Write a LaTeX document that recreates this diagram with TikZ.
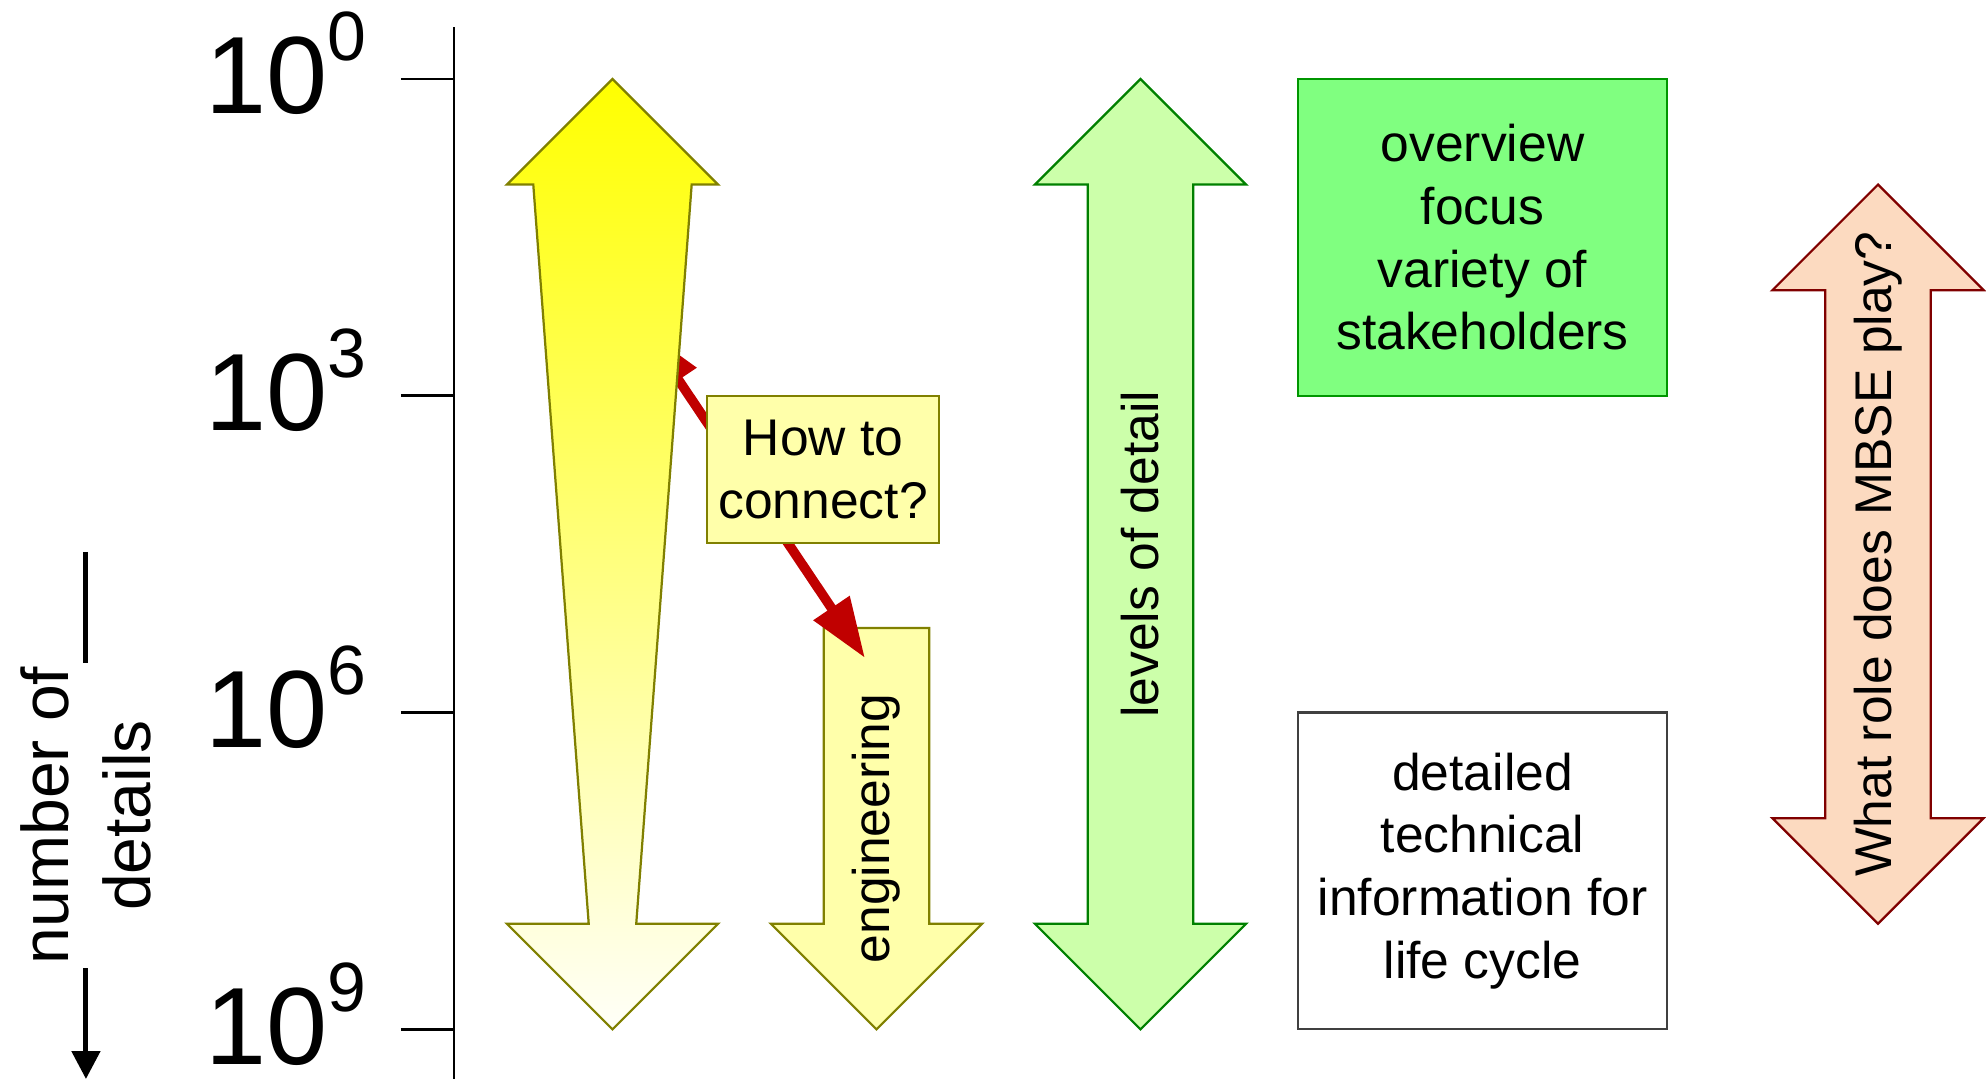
\documentclass[tikz,border=0pt]{standalone}
\usepackage{fontspec}
\setmainfont{Liberation Sans}
\usetikzlibrary{arrows.meta}
\definecolor{olivedge}{RGB}{128,128,0}
\definecolor{paleyellow}{RGB}{255,255,170}
\definecolor{lodgreen}{RGB}{204,255,170}
\definecolor{darkgreen}{RGB}{0,128,0}
\definecolor{boxgreen}{RGB}{128,255,128}
\definecolor{boxgreenedge}{RGB}{0,150,0}
\definecolor{peach}{RGB}{252,218,192}
\definecolor{maroonedge}{RGB}{128,0,0}
\definecolor{linkred}{RGB}{192,0,0}
\definecolor{boxgray}{RGB}{64,64,64}
\definecolor{fadeyellow}{RGB}{255,255,248}

\begin{document}
\begin{tikzpicture}[
    txt/.style={font=\fontsize{13.9}{16.9}\selectfont, align=center, inner sep=0pt},
    infobox/.style={txt, draw, line width=0.6pt, minimum width=3.494cm, minimum height=3cm},
    shapeline/.style={line width=0.6pt},
    declab/.style={font=\fontsize{29.6}{30}\selectfont, anchor=base east, inner sep=0pt},
  ]
  \useasboundingbox (0,0.748) rectangle (18.807,-9.470);

  % Axis with decades
  \draw[line width=0.7pt] (4.299,0.492) -- (4.299,-9.470);
  \foreach \k in {0,3,6,9} {
    \draw[line width=0.7pt] (3.797,-\k) -- (4.299,-\k);
    \node[declab] (dec\k) at (3.48,-\k-0.331)
      {10\raisebox{14.3pt}{\fontsize{18.8}{18.8}\selectfont\k}};
  }

  % Number of details
  \coordinate (ntop) at (0.814,-4.479);
  \coordinate (nbot) at (0.814,-9.470);
  \draw[line width=1.35pt, -{Triangle[length=2.65mm,width=2.65mm]}] (ntop) --
    node[fill=white, rotate=90, align=center, inner sep=1pt,
         font=\fontsize{17.8}{22}\selectfont] (ndet) {number of\\details} (nbot);

  % Engineering
  \draw[shapeline, draw=olivedge, fill=paleyellow] (7.8,-5.2) -- ++(1,0) -- ++(0,-2.8)
    -- ++(0.5,0) -- ++(-1,-1) -- ++(-1,1) -- ++(0.5,0) -- cycle;
  \node[txt, rotate=90] (eng) at (8.3,-7.097) {engineering};

  % How to connect
  \coordinate (qfrom) at (6.108,-2.377);
  \coordinate (qto) at (8.191,-5.483);
  \draw[linkred, line width=2.6pt,
    {Triangle[length=5.7mm,width=3.9mm]}-{Triangle[length=5.7mm,width=3.9mm]}] (qfrom) -- (qto);

  % Tapered arrow
  \draw[shapeline, draw=olivedge, top color=yellow, bottom color=fadeyellow]
    (5.8,0) -- (6.8,-1) -- (6.55,-1) -- (6.025,-8) -- (6.8,-8) -- (5.8,-9)
    -- (4.8,-8) -- (5.575,-8) -- (5.05,-1) -- (4.8,-1) -- cycle;

  \node[txt, draw=olivedge, line width=0.6pt, fill=paleyellow,
        minimum width=2.197cm, minimum height=1.394cm] (howto) at (7.794,-3.697) {How to\\connect?};

  % Levels of detail
  \draw[shapeline, draw=darkgreen, fill=lodgreen] (10.8,0) -- ++(1,-1) -- ++(-0.5,0) -- ++(0,-7)
    -- ++(0.5,0) -- ++(-1,-1) -- ++(-1,1) -- ++(0.5,0) -- ++(0,7) -- ++(-0.5,0) -- cycle;
  \node[txt, rotate=90] (lvl) at (10.8,-4.5) {levels of detail};

  \node[infobox, draw=boxgreenedge, fill=boxgreen] (overview) at (14.039,-1.5)
    {overview\\focus\\variety of\\stakeholders};
  \node[infobox, draw=boxgray, fill=white] (detailed) at (14.039,-7.5)
    {detailed\\technical\\information for\\life cycle};

  % MBSE
  \draw[shapeline, draw=maroonedge, fill=peach] (17.784,-1) -- ++(1,-1) -- ++(-0.5,0) -- ++(0,-5)
    -- ++(0.5,0) -- ++(-1,-1) -- ++(-1,1) -- ++(0.5,0) -- ++(0,5) -- ++(-0.5,0) -- cycle;
  \node[txt, rotate=90] (mbse) at (17.784,-4.5) {What role does MBSE play?};
\end{tikzpicture}
\end{document}
